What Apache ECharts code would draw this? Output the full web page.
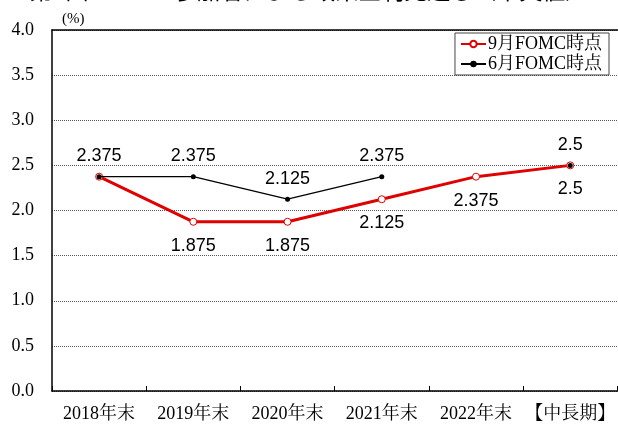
<!DOCTYPE html>
<html><head><meta charset="utf-8">
<script src="https://cdn.jsdelivr.net/npm/echarts@6/dist/echarts.min.js"></script>
<style>html,body{margin:0;padding:0;background:#fff}#c{width:618px;height:424px}</style>
</head><body><div id="c"></div>
<script>
const categories = ['2018年末','2019年末','2020年末','2021年末','2022年末','【中長期】'];
const sepValues = [2.375, 1.875, 1.875, 2.125, 2.375, 2.5];
const junValues = [2.375, 2.375, 2.125, 2.375, null, 2.5];
const yTicks = [0, 4, 0.5];
const seriesNames = ['9月FOMC時点','6月FOMC時点'];
const titleText = '第1図　FOMC参加者による政策金利見通し（中央値）';

const chart = echarts.init(document.getElementById('c'), null, {renderer:'canvas'});
const serif = '"Liberation Serif","Noto Serif CJK JP","Noto Sans CJK JP",serif';
const sans = '"Liberation Sans",Arial,sans-serif';
chart.setOption({
  animation:false,
  title:{text:titleText,left:'center',top:-26,textStyle:{fontFamily:'"Noto Sans CJK JP",sans-serif',fontSize:23,fontWeight:'normal',color:'#000'}},
  grid:{left:52,right:-2,top:30,bottom:33},
  legend:{
    orient:'vertical',right:9,top:33,
    data:seriesNames,
    backgroundColor:'#fff',borderColor:'#444',borderWidth:1,padding:[2,7,2,5],itemGap:2,
    itemWidth:25,itemHeight:8,
    textStyle:{fontFamily:serif,fontSize:18,color:'#000',padding:[0,0,0,-3]}
  },
  xAxis:[{
    type:'category',data:categories,
    axisLine:{lineStyle:{color:'#000',width:1.5}},
    axisTick:{show:true,inside:true,length:5,interval:0,lineStyle:{color:'#000',width:1}},
    axisLabel:{interval:0,fontFamily:serif,fontSize:18,color:'#000',margin:14}
  },{
    type:'category',data:categories,position:'top',
    axisLine:{lineStyle:{color:'#000',width:1.5}},axisTick:{show:false},axisLabel:{show:false}
  }],
  yAxis:{
    type:'value',min:yTicks[0],max:yTicks[1],interval:yTicks[2],
    name:'(%)',nameLocation:'end',nameGap:3,
    nameTextStyle:{fontFamily:serif,fontSize:15,color:'#000',align:'left',padding:[0,0,0,10]},
    axisLine:{show:true,lineStyle:{color:'#000',width:1.5}},
    axisTick:{show:false},
    axisLabel:{fontFamily:serif,fontSize:18,color:'#000',margin:18,formatter:v=>v.toFixed(1)},
    splitLine:{lineStyle:{color:'#555',type:[1,1],width:1}}
  },
  series:[{
    name:seriesNames[0],type:'line',data:sepValues,
    lineStyle:{color:'#e00000',width:3},
    itemStyle:{color:'#fff',borderColor:'#e00000',borderWidth:1},
    symbol:'circle',symbolSize:7,
    label:{show:true,position:'bottom',distance:11,fontFamily:sans,fontSize:18,color:'#000',
      formatter:p=>p.dataIndex===0?'':String(p.value)},
    z:2
  },{
    name:seriesNames[1],type:'line',data:junValues,connectNulls:false,
    lineStyle:{color:'#000',width:1.3},
    itemStyle:{color:'#000'},
    symbol:'circle',symbolSize:5,
    label:{show:true,position:'top',distance:9,fontFamily:sans,fontSize:18,color:'#000'},
    z:3
  }]
});
</script></body></html>
